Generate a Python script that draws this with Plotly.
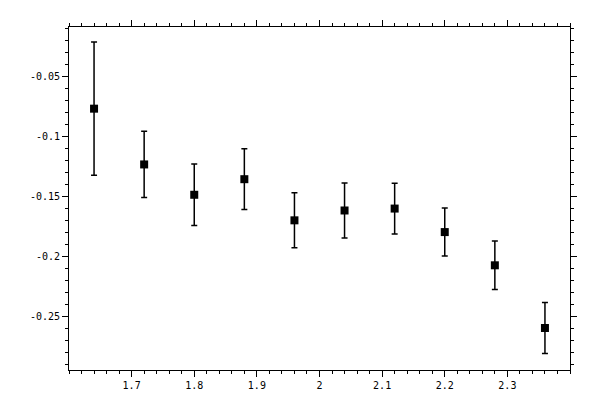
import plotly.graph_objects as go

# data
x = [1.64, 1.72, 1.80, 1.88, 1.96, 2.04, 2.12, 2.20, 2.28, 2.36]
y = [-0.0766, -0.1231, -0.1484, -0.1354, -0.1697, -0.1615, -0.1599, -0.1795, -0.2072, -0.2595]
err = [0.0555, 0.0276, 0.0256, 0.0253, 0.0229, 0.0229, 0.0212, 0.0200, 0.0202, 0.0212]

xtick_vals = [1.7, 1.8, 1.9, 2.0, 2.1, 2.2, 2.3]
xtick_text = ["1.7", "1.8", "1.9", "2", "2.1", "2.2", "2.3"]
ytick_vals = [-0.05, -0.1, -0.15, -0.2, -0.25]
ytick_text = ["-0.05", "-0.1", "-0.15", "-0.2", "-0.25"]

fig = go.Figure()
fig.add_trace(go.Scatter(
    x=x, y=y, mode="markers",
    marker=dict(symbol="square", size=8, color="black"),
    error_y=dict(type="data", array=err, visible=True,
                 color="black", thickness=1.5, width=3),
    showlegend=False,
))

axis_common = dict(
    showline=True, linecolor="black", linewidth=1, mirror="allticks",
    ticks="outside", ticklen=6, tickwidth=1, tickcolor="black",
    showgrid=False, zeroline=False,
    tickfont=dict(family="DejaVu Sans Mono", size=10, color="black"),
)

fig.update_xaxes(range=[1.6, 2.4], tickmode="array", tickvals=xtick_vals,
                 ticktext=xtick_text,
                 minor=dict(dtick=0.02, tick0=1.6, ticks="outside", ticklen=3,
                            tickcolor="black", showgrid=False),
                 **axis_common)
fig.update_yaxes(range=[-0.2945, -0.0085], tickmode="array", tickvals=ytick_vals,
                 ticktext=ytick_text,
                 minor=dict(dtick=0.01, tick0=0, ticks="outside", ticklen=3,
                            tickcolor="black", showgrid=False),
                 **axis_common)

# page body adds an 8px offset, so margins are shifted to compensate
fig.update_layout(
    width=600, height=400,
    margin=dict(l=61, r=38, t=12, b=38),
    plot_bgcolor="white", paper_bgcolor="white",
)

fig.write_html("out.html")
